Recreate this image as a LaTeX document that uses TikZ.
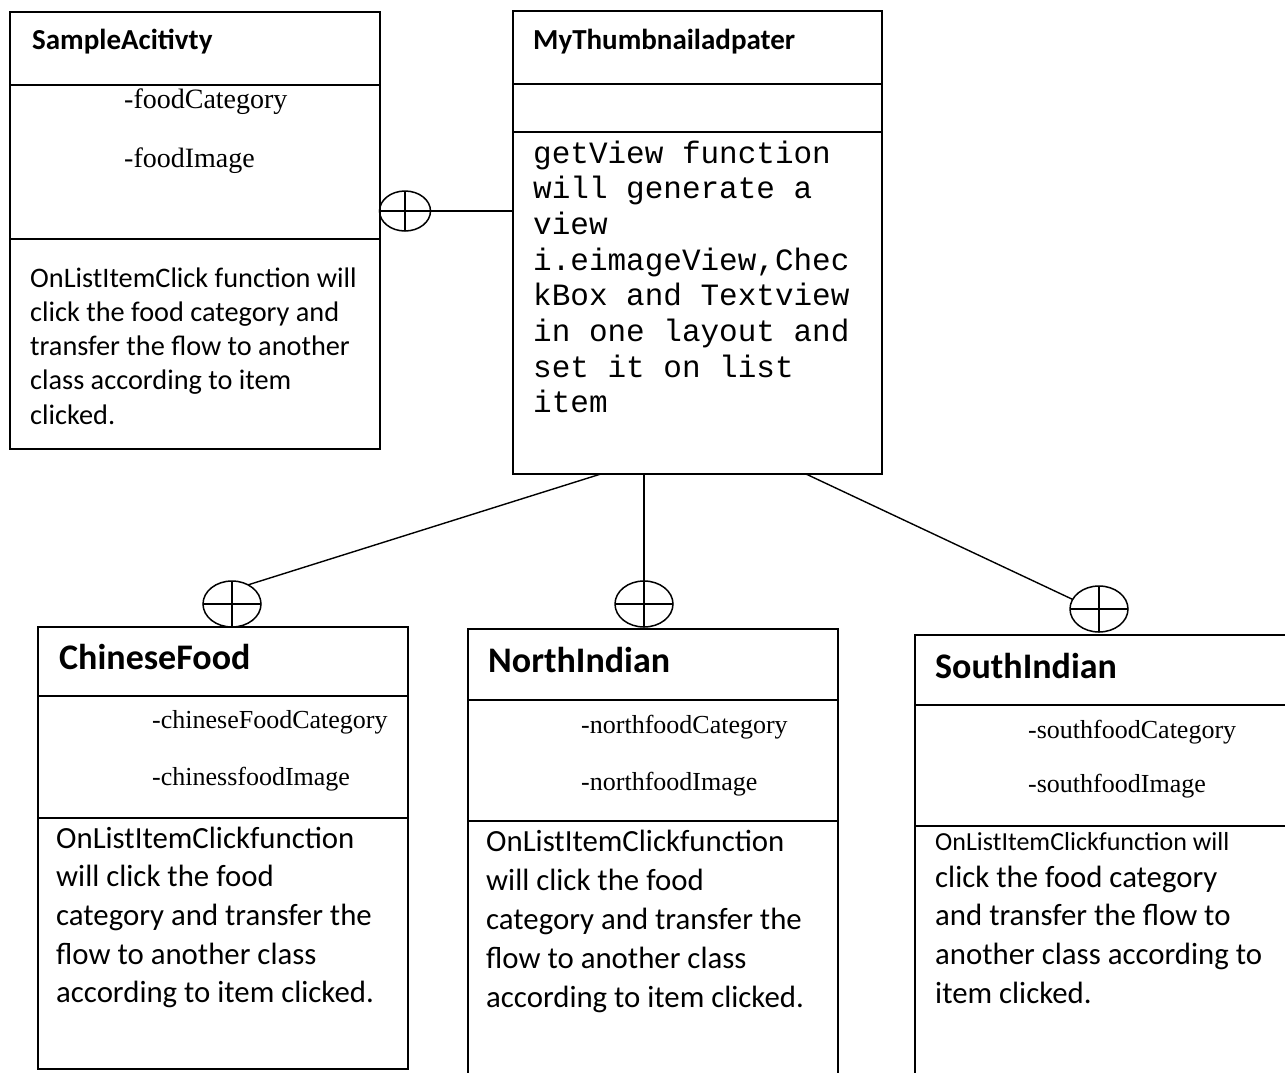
\documentclass[tikz,border=0pt]{standalone}
\usepackage{fontspec}
\setmainfont{Liberation Serif}
\newfontfamily\calfont{Carlito}
\newfontfamily\mymono{Liberation Mono}
\usetikzlibrary{shapes.geometric,calc}
\begin{document}
\begin{tikzpicture}[x=1pt,y=-1pt,
  box/.style={draw, line width=1.8pt, inner sep=0pt, outer sep=0pt, anchor=north west},
  divline/.style={line width=1.6pt},
  conn/.style={line width=1.4pt},
  oval/.style={draw, ellipse, line width=1.5pt, inner sep=0pt, outer sep=0pt, minimum width=58pt, minimum height=46pt},
  ttlA/.style={anchor=base west, inner sep=0pt, font=\calfont\bfseries\fontsize{29}{34}\selectfont},
  ttlB/.style={anchor=base west, inner sep=0pt, font=\calfont\bfseries\fontsize{36}{42}\selectfont},
  attrA/.style={anchor=base west, inner sep=0pt, font=\fontsize{28}{32}\selectfont},
  attrB/.style={anchor=base west, inner sep=0pt, font=\fontsize{26}{30}\selectfont},
  methA/.style={anchor=base west, inner sep=0pt, font=\calfont\fontsize{28.3}{34}\selectfont},
  methB/.style={anchor=base west, inner sep=0pt, font=\calfont\fontsize{30.8}{38}\selectfont},
  methS/.style={anchor=base west, inner sep=0pt, font=\calfont\fontsize{26}{30}\selectfont},
  monotxt/.style={anchor=base west, inner sep=0pt, font=\mymono\fontsize{31}{36}\selectfont}
]
\useasboundingbox (0,0) rectangle (1285,1072);
\fill[white] (0,0) rectangle (1285,1072);
\clip (0,0) rectangle (1285,1072);

% ---- boxes ----
\node[box, minimum width=370pt, minimum height=437pt] (sa) at (10,12) {};
\node[box, minimum width=369pt, minimum height=463pt] (mt) at (513,11) {};
\node[box, minimum width=370pt, minimum height=442pt] (cf) at (38,627) {};
\node[box, minimum width=370pt, minimum height=460pt] (ni) at (468,629) {};
\node[box, minimum width=390pt, minimum height=460pt] (si) at (915,635) {};

% ---- dividers ----
\draw[divline] (sa.west |- 0,85) -- (sa.east |- 0,85);
\draw[divline] (sa.west |- 0,239) -- (sa.east |- 0,239);
\draw[divline] (mt.west |- 0,84) -- (mt.east |- 0,84);
\draw[divline] (mt.west |- 0,132) -- (mt.east |- 0,132);
\draw[divline] (cf.west |- 0,696) -- (cf.east |- 0,696);
\draw[divline] (cf.west |- 0,818) -- (cf.east |- 0,818);
\draw[divline] (ni.west |- 0,700) -- (ni.east |- 0,700);
\draw[divline] (ni.west |- 0,821) -- (ni.east |- 0,821);
\draw[divline] (si.west |- 0,705) -- (si.east |- 0,705);
\draw[divline] (si.west |- 0,826) -- (si.east |- 0,826);

% ---- titles ----
\node[ttlA] (saT) at (32,49) {SampleAcitivty};
\node[ttlA] (mtT) at (533,49) {MyThumbnailadpater};
\node[ttlB] (cfT) at (59,669) {ChineseFood};
\node[ttlB] (niT) at (488,672) {NorthIndian};
\node[ttlB] (siT) at (935,678) {SouthIndian};

% ---- attributes ----
\node[attrA] (saA1) at (124,108) {-foodCategory};
\node[attrA] (saA2) at (124,167) {-foodImage};
\node[attrB] (cfA1) at (152,728) {-chineseFoodCategory};
\node[attrB] (cfA2) at (152,785) {-chinessfoodImage};
\node[attrB] (niA1) at (581,733) {-northfoodCategory};
\node[attrB] (niA2) at (581,790) {-northfoodImage};
\node[attrB] (siA1) at (1028,738) {-southfoodCategory};
\node[attrB] (siA2) at (1028,792) {-southfoodImage};

% ---- methods ----
\foreach \t [count=\i] in {OnListItemClick function will, click the food category and, transfer the flow to another, class according to item, clicked.}
  \node[methA] (saM\i) at (30,{287+34.25*(\i-1)}) {\t};

\foreach \t [count=\i] in {getView function, will generate a, view, {i.eimageView,Chec}, kBox and Textview, in one layout and, set it on list, item}
  \node[monotxt] (mtM\i) at (533,{163+35.7*(\i-1)}) {\t};

\foreach \t [count=\i] in {OnListItemClickfunction, will click the food, category and transfer the, flow to another class, according to item clicked.}
  \node[methB] (cfM\i) at (56,{848+38.7*(\i-1)}) {\t};

\foreach \t [count=\i] in {OnListItemClickfunction, will click the food, category and transfer the, flow to another class, according to item clicked.}
  \node[methB] (niM\i) at (486,{851+39*(\i-1)}) {\t};

\node[methS] (siM1) at (935,850) {OnListItemClickfunction will};
\foreach \t [count=\i from 2] in {click the food category, and transfer the flow to, another class according to, item clicked.}
  \node[methB] (siM\i) at (935,{887+38.7*(\i-2)}) {\t};

% ---- composition symbols ----
\node[oval, minimum width=51pt, minimum height=40pt] (e0) at (405,211) {};
\node[oval] (e1) at (232,604) {};
\node[oval] (e2) at (644,604) {};
\node[oval] (e3) at (1099,609) {};
\foreach \e in {e0,e1,e2,e3}
  \draw[line width=1.4pt] (\e.north) -- (\e.south) (\e.west) -- (\e.east);

% ---- connectors ----
\draw[conn] (e0.east) -- (e0.east -| mt.west);
\draw[conn] (e1.50) -- ($(mt.south west)!0.238!(mt.south east)$);
\draw[conn] (e2.north) -- (e2.north |- mt.south);
\draw[conn] (e3.160) -- ($(mt.south west)!0.794!(mt.south east)$);
\end{tikzpicture}
\end{document}
